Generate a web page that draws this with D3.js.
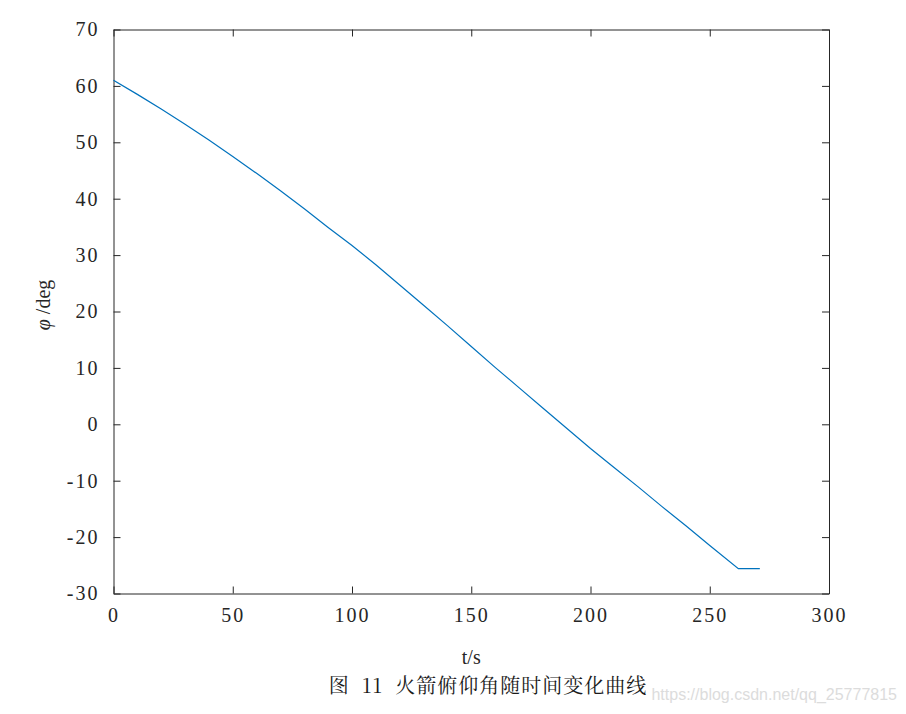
<!DOCTYPE html>
<html>
<head>
<meta charset="utf-8">
<script src="https://cdn.jsdelivr.net/npm/d3@7"></script>
<style>
  body { margin: 0; background: #fff; }
  .tick text { font-family: "Liberation Serif", "DejaVu Serif", serif; font-size: 20px; fill: #262626; letter-spacing: 2px; }
  .axis path, .axis line { stroke: #262626; }
</style>
</head>
<body>
<div id="chart"></div>
<script>
// pitch angle vs time
const times = [0, 10, 20, 30, 40, 50, 60, 70, 80, 90, 100, 110, 120, 130, 140,
  150, 160, 170, 180, 190, 200, 210, 220, 230, 240, 250, 262, 271];
const pitch = [61.0, 58.5, 55.9, 53.2, 50.4, 47.5, 44.5, 41.4, 38.2, 34.9, 31.7, 28.3,
  24.7, 21.1, 17.5, 13.8, 10.1, 6.5, 2.9, -0.7, -4.3, -7.7, -11.1, -14.6, -18.0,
  -21.5, -25.6, -25.6];
const xTicks = [0, 50, 100, 150, 200, 250, 300];
const yTicks = [-30, -20, -10, 0, 10, 20, 30, 40, 50, 60, 70];

const W = 906, H = 714;
const margin = { top: 29.5, right: 77, bottom: 120.5, left: 113.5 },
  width = W - margin.left - margin.right,
  height = H - margin.top - margin.bottom;

const svg = d3.select('#chart').append('svg')
  .attr('width', W)
  .attr('height', H);

const g = svg.append('g')
  .attr('transform', `translate(${margin.left},${margin.top})`);

const x = d3.scaleLinear().domain([0, 300]).range([0, width]);
const y = d3.scaleLinear().domain([-30, 70]).range([height, 0]);

// plain hyphen for negatives, like the original
const fmt = d => String(d);

// axes with inward ticks, mirrored on top and right
const tl = 7;
g.append('g').attr('class', 'axis')
  .attr('transform', `translate(0,${height})`)
  .call(d3.axisBottom(x).tickValues(xTicks).tickFormat(fmt).tickSizeInner(-tl).tickSizeOuter(0))
  .call(a => a.selectAll('text').attr('dy', '0.71em').attr('y', 14));
g.append('g').attr('class', 'axis')
  .call(d3.axisTop(x).tickValues(xTicks).tickSizeInner(-tl).tickSizeOuter(0).tickFormat(''));
g.append('g').attr('class', 'axis')
  .call(d3.axisLeft(y).tickValues(yTicks).tickFormat(fmt).tickSizeInner(-tl).tickSizeOuter(0).tickPadding(14));
g.append('g').attr('class', 'axis')
  .attr('transform', `translate(${width},0)`)
  .call(d3.axisRight(y).tickValues(yTicks).tickSizeInner(-tl).tickSizeOuter(0).tickFormat(''));

// line
const data = times.map((t, i) => ({ t: t, v: pitch[i] }));
g.append('path')
  .datum(data)
  .attr('fill', 'none')
  .attr('stroke', '#0072BD')
  .attr('stroke-width', 1.2)
  .attr('d', d3.line().x(d => x(d.t)).y(d => y(d.v)));

// labels
svg.append('text')
  .attr('x', margin.left + width / 2)
  .attr('y', 664)
  .attr('text-anchor', 'middle')
  .style('font-family', '"Liberation Serif", serif')
  .style('font-size', '20px')
  .attr('fill', '#262626')
  .text('t/s');

const yl = svg.append('text')
  .attr('transform', 'translate(50,305) rotate(-90)')
  .attr('text-anchor', 'middle')
  .style('font-family', '"Liberation Serif", serif')
  .style('font-size', '20px')
  .attr('fill', '#262626');
yl.append('tspan').style('font-style', 'italic').text('φ');
yl.append('tspan').text(' /deg');

svg.append('text')
  .attr('x', 488)
  .attr('y', 693)
  .attr('text-anchor', 'middle')
  .style('font-family', '"Noto Serif CJK SC", "Noto Sans CJK SC", serif')
  .style('font-size', '20px')
  .style('letter-spacing', '1px')
  .style('white-space', 'pre')
  .attr('fill', '#1a1a1a')
  .text('图  11  火箭俯仰角随时间变化曲线');

// watermark
svg.append('text')
  .attr('x', 897)
  .attr('y', 700)
  .attr('text-anchor', 'end')
  .style('font-family', '"Liberation Sans", Arial, sans-serif')
  .style('font-size', '16px')
  .attr('fill', '#dcdcdc')
  .text('https://blog.csdn.net/qq_25777815');
</script>
</body>
</html>
